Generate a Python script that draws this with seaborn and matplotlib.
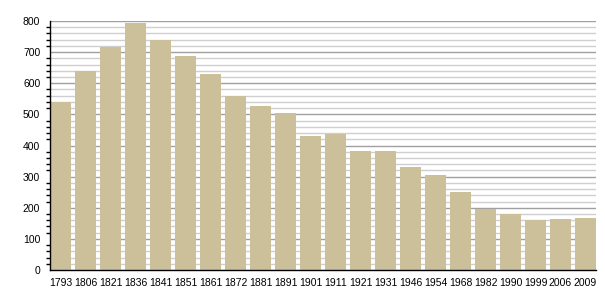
import matplotlib
matplotlib.use("Agg")
import matplotlib.pyplot as plt
import seaborn as sns
import pandas as pd
from matplotlib.ticker import MultipleLocator

years = ["1793", "1806", "1821", "1836", "1841", "1851", "1861", "1872", "1881", "1891",
         "1901", "1911", "1921", "1931", "1946", "1954", "1968", "1982", "1990", "1999",
         "2006", "2009"]
population = [540, 639, 718, 793, 740, 687, 630, 559, 527, 504,
              430, 438, 382, 382, 332, 306, 251, 197, 180, 160,
              163, 167]

df = pd.DataFrame({"year": years, "pop": population})

sns.set_style("white")
plt.rcParams['font.family'] = ['Liberation Sans', 'DejaVu Sans']

fig = plt.figure(figsize=(6.05, 3.0), dpi=100)
ax = fig.add_axes([50/605, 30/300, 546/605, 249/300])

ax.set_ylim(0, 800)
ax.yaxis.set_major_locator(MultipleLocator(100))
ax.yaxis.set_minor_locator(MultipleLocator(20))
ax.grid(axis="y", which="major", color="#a0a0a0", linewidth=1.0, zorder=0)
ax.grid(axis="y", which="minor", color="#cfcfcf", linewidth=1.0, zorder=0)
ax.set_axisbelow(True)

sns.barplot(data=df, x="year", y="pop", color="#cbc099", saturation=1, width=0.83,
            linewidth=0, edgecolor="none", ax=ax, zorder=2)
ax.set_xlim(-0.42, len(years) - 1 + 0.42)

for s in ["top", "right"]:
    ax.spines[s].set_visible(False)
for s in ["left", "bottom"]:
    ax.spines[s].set_color("black")
    ax.spines[s].set_linewidth(1.0)
    ax.spines[s].set_zorder(5)

ax.tick_params(axis="y", which="major", direction="out", length=5, width=1, color="black",
               labelsize=7.5, labelcolor="black", pad=2)
ax.tick_params(axis="y", which="minor", direction="out", length=3, width=1, color="black", left=True)
ax.tick_params(axis="x", which="both", bottom=False, labelsize=7.5, labelcolor="black", pad=2)
ax.set_xlabel("")
ax.set_ylabel("")

fig.savefig("out.png", dpi=100)
